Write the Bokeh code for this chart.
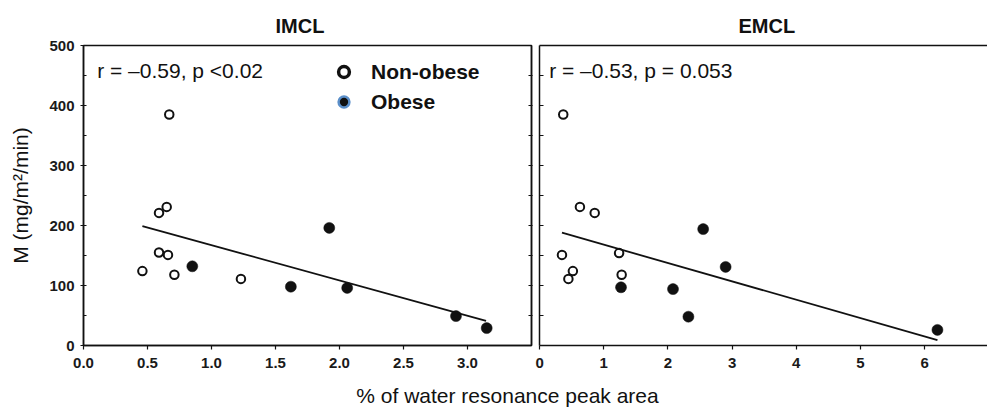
from bokeh.plotting import figure
from bokeh.models import Range1d, FixedTicker, LinearAxis, Label, Legend, LegendItem, PrintfTickFormatter
from bokeh.layouts import row, column
from bokeh.embed import file_html
from bokeh.resources import INLINE

FONT = "Liberation Sans"
INK = "#111111"
TICK_INK = "#1a1a1a"
RING = "#5b8fc9"

# ---------------- data ----------------
panel_titles = ["IMCL", "EMCL"]
stats_text = ["r = \u20130.59, p <0.02", "r = \u20130.53, p = 0.053"]
legend_labels = ["Non-obese", "Obese"]
y_label = "M (mg/m\u00b2/min)"
x_label = "% of water resonance peak area"

y_ticks = [0, 100, 200, 300, 400, 500]
y_minor_ticks = [50, 150, 250, 350, 450]
y_side_ticks = [50, 100, 150, 200, 250, 300, 350, 400, 450]
imcl_x_ticks = [0.0, 0.5, 1.0, 1.5, 2.0, 2.5, 3.0]
emcl_x_ticks = [0, 1, 2, 3, 4, 5, 6]

imcl_nonobese_x = [0.67, 0.65, 0.59, 0.59, 0.66, 0.46, 0.71, 1.23]
imcl_nonobese_y = [385, 231, 221, 155, 151, 124, 118, 111]
imcl_obese_x = [0.85, 1.62, 1.92, 2.06, 2.91, 3.15]
imcl_obese_y = [132, 98, 196, 96, 49, 29]
imcl_fit_x = [0.46, 3.145]
imcl_fit_y = [199, 41]

emcl_nonobese_x = [0.37, 0.63, 0.86, 0.35, 0.52, 0.45, 1.24, 1.28]
emcl_nonobese_y = [385, 231, 221, 151, 124, 111, 154, 118]
emcl_obese_x = [1.27, 2.08, 2.55, 2.90, 2.32, 6.20]
emcl_obese_y = [97, 94, 194, 131, 48, 26]
emcl_fit_x = [0.35, 6.20]
emcl_fit_y = [188, 9]


def style_tick_labels(ax):
    ax.major_label_text_font = FONT
    ax.major_label_text_font_size = "15px"
    ax.major_label_text_font_style = "bold"
    ax.major_label_text_color = TICK_INK
    ax.axis_line_color = INK
    ax.axis_line_width = 1.5
    ax.major_tick_line_color = INK
    ax.major_tick_line_width = 1.2
    ax.minor_tick_line_color = INK
    ax.minor_tick_line_width = 1.2


def bare_axis(ticks, tick_in, tick_out, line=True):
    ax = LinearAxis(ticker=FixedTicker(ticks=ticks))
    ax.major_label_text_color = None
    ax.major_label_text_font_size = "1px"
    ax.major_label_standoff = 0
    ax.major_tick_in = tick_in
    ax.major_tick_out = tick_out
    ax.major_tick_line_color = INK
    ax.major_tick_line_width = 1.2
    ax.minor_tick_line_color = None
    ax.axis_line_color = INK if line else None
    ax.axis_line_width = 1.5
    return ax


def add_points(p, ox, oy, fx, fy, lx, ly):
    r_open = p.scatter(ox, oy, marker="circle", size=8.5, fill_color="white",
                       line_color=INK, line_width=2)
    r_fill = p.scatter(fx, fy, marker="circle", size=11, fill_color=INK,
                       line_color=INK, line_width=0.5)
    p.line(lx, ly, line_color=INK, line_width=1.8)
    return r_open, r_fill


def set_title(p, text, offset):
    p.title.text = text
    p.title.align = "left"
    p.title.offset = offset
    p.title.text_font = FONT
    p.title.text_font_size = "20px"
    p.title.text_font_style = "bold"
    p.title.text_color = INK
    p.title.standoff = 18


# ---------------- left panel (IMCL) ----------------
left = figure(width=535, height=377, x_range=Range1d(0, 3.5), y_range=Range1d(0, 500),
              output_backend="svg", toolbar_location=None,
              x_axis_location=None, y_axis_location=None,
              min_border_left=83, min_border_right=4, min_border_top=45, min_border_bottom=32)
left.outline_line_color = INK
left.outline_line_width = 1.5
left.xgrid.visible = False
left.ygrid.visible = False
set_title(left, panel_titles[0], 192)

yax = LinearAxis(ticker=FixedTicker(ticks=y_ticks, minor_ticks=y_minor_ticks))
style_tick_labels(yax)
yax.major_tick_in = 3
yax.major_tick_out = 3
yax.minor_tick_in = 3
yax.minor_tick_out = 0
yax.major_label_standoff = 6
yax.axis_label = y_label
yax.axis_label_text_font = FONT
yax.axis_label_text_font_size = "21px"
yax.axis_label_text_font_style = "normal"
yax.axis_label_text_color = INK
yax.axis_label_standoff = 14
left.add_layout(yax, "left")

xax = LinearAxis(ticker=FixedTicker(ticks=imcl_x_ticks), formatter=PrintfTickFormatter(format="%.1f"))
style_tick_labels(xax)
xax.major_tick_in = 0
xax.major_tick_out = 4
xax.minor_tick_line_color = None
xax.major_label_standoff = 8
left.add_layout(xax, "below")

left.add_layout(bare_axis(y_side_ticks, 3, 1), "right")

add_points(left, imcl_nonobese_x, imcl_nonobese_y, imcl_obese_x, imcl_obese_y, imcl_fit_x, imcl_fit_y)

# legend-only renderers (hidden), styled like the legend symbols
leg_open = left.scatter(imcl_nonobese_x, imcl_nonobese_y, marker="circle", fill_color="white",
                        line_color=INK, line_width=3.5, visible=False)
leg_fill = left.scatter(imcl_obese_x, imcl_obese_y, marker="circle", fill_color=INK,
                        line_color=RING, line_width=2.5, visible=False)
legend = Legend(items=[LegendItem(label=legend_labels[0], renderers=[leg_open]),
                       LegendItem(label=legend_labels[1], renderers=[leg_fill])],
                location=(247, 230), orientation="vertical",
                glyph_width=27, glyph_height=27, spacing=3, label_standoff=14,
                label_height=27, padding=0, margin=0,
                border_line_color=None, background_fill_alpha=0,
                label_text_font=FONT, label_text_font_size="21px",
                label_text_font_style="bold", label_text_color=INK)
left.add_layout(legend)

left.add_layout(Label(x=0.107, y=458, text=stats_text[0], text_font=FONT, text_font_size="21px",
                      text_color=INK, text_baseline="middle", text_align="left"))

# ---------------- right panel (EMCL) ----------------
right = figure(width=452, height=377, x_range=Range1d(0, 6.98), y_range=Range1d(0, 500),
               output_backend="svg", toolbar_location=None,
               x_axis_location=None, y_axis_location=None,
               min_border_left=4, min_border_right=0, min_border_top=45, min_border_bottom=32)
right.outline_line_color = None
right.xgrid.visible = False
right.ygrid.visible = False
set_title(right, panel_titles[1], 199)

xax2 = LinearAxis(ticker=FixedTicker(ticks=emcl_x_ticks))
style_tick_labels(xax2)
xax2.major_tick_in = 0
xax2.major_tick_out = 4
xax2.minor_tick_line_color = None
xax2.major_label_standoff = 8
right.add_layout(xax2, "below")

right.add_layout(bare_axis(y_side_ticks, 4, 0), "left")
right.add_layout(bare_axis([], 0, 0), "above")

add_points(right, emcl_nonobese_x, emcl_nonobese_y, emcl_obese_x, emcl_obese_y, emcl_fit_x, emcl_fit_y)

right.add_layout(Label(x=0.15, y=458, text=stats_text[1], text_font=FONT, text_font_size="21px",
                       text_color=INK, text_baseline="middle", text_align="left"))

# ---------------- shared x-axis title ----------------
bottom = figure(width=987, height=30, x_range=Range1d(0, 987), y_range=Range1d(0, 30),
                output_backend="svg", toolbar_location=None,
                x_axis_location=None, y_axis_location=None, min_border=0)
bottom.outline_line_color = None
bottom.xgrid.visible = False
bottom.ygrid.visible = False
bottom.add_layout(Label(x=507, y=12, text=x_label, text_font=FONT, text_font_size="21px",
                        text_color=INK, text_baseline="middle", text_align="center"))

layout = column(row(left, right, spacing=0), bottom, spacing=0)
open("out.html", "w").write(file_html(layout, INLINE))
